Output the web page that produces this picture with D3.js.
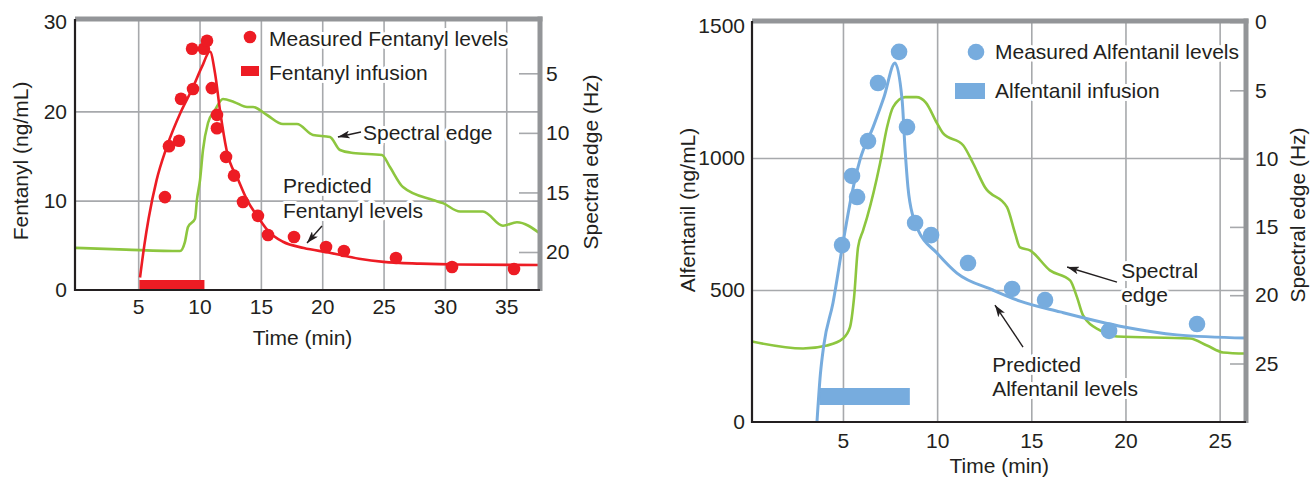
<!DOCTYPE html>
<html><head><meta charset="utf-8">
<script src="https://cdn.jsdelivr.net/npm/d3@7"></script>
<style>
body{margin:0;background:#fff}
svg text{font-family:"Liberation Sans",Arial,Helvetica,sans-serif;fill:#231f20}
</style>
</head><body>
<svg id="c" width="1314" height="477"></svg>
<script>
// ---------------- DATA ----------------
// Left panel: Fentanyl
const fentTicksX = [5, 10, 15, 20, 25, 30, 35];
const fentTicksY = [0, 10, 20, 30];
const fentGridY = [10, 20];
const fentSpecTicks = [5, 10, 15, 20];
const fentInfusion = [5.1, 10.4]; // minutes
const fentMeasured = [
  [7.18,10.4],[7.51,16.1],[8.33,16.7],[8.49,21.4],[9.47,22.5],[9.39,27.0],[10.36,27.0],[10.61,27.9],
  [11.0,22.6],[11.42,19.6],[11.42,18.1],[12.16,14.9],[12.81,12.8],[13.54,9.85],[14.76,8.3],[15.58,6.16],
  [17.7,5.93],[20.31,4.81],[21.77,4.37],[26.01,3.58],[30.58,2.57],[35.63,2.35]
];
const fentPredicted = [
  [5.15,1.4],[5.5,5.0],[5.85,8.0],[6.5,12.3],[7.3,15.9],[8.5,20.0],[9.4,22.5],[10.2,25.0],[10.85,26.7],
  [11.26,24.3],[11.67,20.1],[12.2,15.7],[13.16,12.3],[13.9,10.0],[14.8,8.1],[15.6,6.6],[16.8,5.4],
  [18.5,4.7],[20.5,4.2],[23,3.5],[25,3.15],[28,2.95],[31,2.85],[37.75,2.8]
];
const fentSpectral = [
  [-0.15,19.65],[4,19.8],[8.41,19.92],[8.8,19.2],[9.06,17.9],[9.63,17.2],[9.79,15.6],[10.04,13.96],
  [10.28,11.44],[10.69,9.17],[11.26,8.08],[11.91,7.16],[12.8,7.4],[13.87,7.83],[14.36,7.83],[15.5,8.5],
  [16.8,9.26],[17.94,9.26],[19.25,10.18],[20.63,10.35],[21.45,11.44],[22.51,11.69],[24.87,11.86],
  [25.52,12.87],[26.58,14.55],[29.03,15.64],[29.84,15.9],[31.23,16.6],[33.1,16.6],[34.73,17.8],
  [35.87,17.5],[37.75,18.45]
];

// Right panel: Alfentanil
const alfTicksX = [5, 10, 15, 20, 25];
const alfTicksY = [0, 500, 1000, 1500];
const alfGridY = [500, 1000];
const alfSpecTicks = [0, 5, 10, 15, 20, 25];
const alfInfusion = [3.75, 8.55];
const alfMeasured = [
  [4.95,670],[5.48,932],[5.75,852],[6.33,1064],[6.86,1284],[7.98,1402],[8.4,1117],[8.83,754],
  [9.68,708],[11.64,602],[13.98,504],[15.73,462],[19.13,345],[23.8,371]
];
const alfPredicted = [
  [3.62,0],[3.8,180],[3.98,290],[4.47,451],[5.0,678],[5.48,867],[5.9,992],[6.6,1117],[7.18,1231],[7.76,1360],
  [8.14,1220],[8.3,1030],[8.45,890],[8.72,777],[8.99,727],[9.99,640],[11.05,564],[12.96,500],
  [14.4,458],[16.53,417],[19.93,360],[22.74,330],[26.4,318]
];
const alfSpectral = [
  [0.17,23.39],[2.88,23.9],[4.15,23.68],[5.0,23.17],[5.37,22.36],[5.59,20.16],[5.8,16.5],[6.07,15.25],
  [6.28,14.3],[6.97,10.34],[7.34,7.7],[7.66,6.23],[8.3,5.5],[8.9,5.5],[9.4,5.9],[9.99,7.4],[10.31,8.14],
  [11.38,9.02],[11.91,10.34],[12.54,12.1],[13.71,13.56],[14.14,15.47],[14.4,16.5],[14.93,16.72],
  [15.99,18.18],[17.06,18.91],[17.43,20.16],[17.75,21.48],[18.65,22.58],[19.55,23.02],[23.43,23.17],
  [24.33,23.68],[25.18,24.19],[26.4,24.27]
];

// ---------------- STYLE ----------------
const FONT = 21;
const C = {red:"#ed1c24", green:"#8dc63f", blue:"#77acde", grid:"#a7a9ac", frame:"#939598", ink:"#231f20"};
const svg = d3.select("#c");

const defs = svg.append("defs");
defs.append("marker").attr("id","arr").attr("viewBox","0 0 12 8").attr("refX",12).attr("refY",4)
  .attr("markerWidth",12).attr("markerHeight",8).attr("markerUnits","userSpaceOnUse").attr("orient","auto")
  .append("path").attr("d","M0,0 L12,4 L0,8 L3,4 Z").attr("fill",C.ink);

function styleAxisText(a){
  a.attr("font-size",FONT).attr("font-family",null);
  a.selectAll("text").attr("fill",C.ink);
}

function drawPanel(p){
  const g = svg.append("g");
  const {x,y,s,L,T,R,B} = p;

  // vertical grid
  g.append("g").attr("transform",`translate(0,${B})`)
    .call(d3.axisBottom(x).tickValues(p.xTicks).tickSize(-(B-T)).tickFormat(""))
    .call(a=>{a.select(".domain").remove();a.selectAll("line").attr("stroke",C.grid).attr("stroke-width",1.6);});
  // horizontal grid
  g.append("g").attr("transform",`translate(${L},0)`)
    .call(d3.axisLeft(y).tickValues(p.yGrid).tickSize(-(R-L)).tickFormat(""))
    .call(a=>{a.select(".domain").remove();a.selectAll("line").attr("stroke",C.grid).attr("stroke-width",1.6);});

  // infusion bar
  g.append("rect").attr("x",x(p.infusion[0])).attr("width",x(p.infusion[1])-x(p.infusion[0]))
    .attr("y",B-p.barOff-p.barH).attr("height",p.barH).attr("fill",p.color);

  // spectral edge line
  g.append("path").datum(p.spectral)
    .attr("d",d3.line().x(d=>x(d[0])).y(d=>s(d[1])).curve(d3.curveMonotoneX))
    .attr("fill","none").attr("stroke",C.green).attr("stroke-width",2.6);
  // predicted line
  g.append("path").datum(p.predicted)
    .attr("d",d3.line().x(d=>x(d[0])).y(d=>y(d[1])).curve(d3.curveMonotoneX))
    .attr("fill","none").attr("stroke",p.color).attr("stroke-width",p.lineW);
  // measured dots
  g.append("g").selectAll("circle").data(p.measured).join("circle")
    .attr("cx",d=>x(d[0])).attr("cy",d=>y(d[1])).attr("r",p.dotR).attr("fill",p.color);

  // right axis (spectral edge) with inward ticks
  g.append("g").attr("transform",`translate(${R},0)`)
    .call(d3.axisRight(s).tickValues(p.sTicks).tickSize(-p.rTick).tickPadding(p.rPad).tickFormat(d3.format("d")))
    .call(a=>{a.select(".domain").remove();a.selectAll("line").attr("stroke",C.grid).attr("stroke-width",1.6);styleAxisText(a);});

  // frame: top & right gray, left & bottom black
  g.append("line").attr("x1",L).attr("x2",R+2.5).attr("y1",T).attr("y2",T).attr("stroke",C.frame).attr("stroke-width",5);
  g.append("line").attr("x1",R).attr("x2",R).attr("y1",T-2.5).attr("y2",B+1).attr("stroke",C.frame).attr("stroke-width",5);

  // bottom axis
  g.append("g").attr("transform",`translate(0,${B})`)
    .call(d3.axisBottom(x).tickValues(p.xTicks).tickSize(0).tickFormat(d3.format("d")))
    .call(a=>{a.select(".domain").remove();styleAxisText(a);a.selectAll("text").attr("y",p.xLabelDy).attr("dy",null);});
  // left axis
  g.append("g").attr("transform",`translate(${L},0)`)
    .call(d3.axisLeft(y).tickValues(p.yTicks).tickSize(0).tickPadding(p.lPad).tickFormat(d3.format("d")))
    .call(a=>{a.select(".domain").remove();styleAxisText(a);});
  g.append("line").attr("x1",L).attr("x2",L).attr("y1",T).attr("y2",B+1).attr("stroke",C.ink).attr("stroke-width",2.2);
  g.append("line").attr("x1",L-1).attr("x2",R).attr("y1",B).attr("y2",B).attr("stroke",C.ink).attr("stroke-width",2.2);

  // axis titles
  g.append("text").attr("x",(x(p.xTitleAt))).attr("y",p.xTitleY).attr("text-anchor","middle")
    .attr("font-size",FONT).text("Time (min)");
  g.append("text").attr("transform",`translate(${p.yTitle[0]},${p.yTitle[1]}) rotate(-90)`)
    .attr("text-anchor","middle").attr("font-size",FONT).text(p.yTitleText);
  g.append("text").attr("transform",`translate(${p.sTitle[0]},${p.sTitle[1]}) rotate(-90)`)
    .attr("text-anchor","middle").attr("font-size",FONT).text("Spectral edge (Hz)");

  // legend
  const lg = p.legend;
  g.append("circle").attr("cx",lg.cx).attr("cy",lg.cy).attr("r",p.dotR).attr("fill",p.color);
  g.append("rect").attr("x",lg.rx).attr("y",lg.ry).attr("width",lg.rw).attr("height",lg.rh).attr("fill",p.color);
  const halo = sel => sel.attr("stroke","#fff").attr("stroke-width",6).attr("paint-order","stroke").attr("stroke-linejoin","round");
  g.append("text").attr("x",lg.tx).attr("y",lg.t1).attr("font-size",FONT).text(p.legendText[0]).call(halo);
  g.append("text").attr("x",lg.tx).attr("y",lg.t2).attr("font-size",FONT).text(p.legendText[1]).call(halo);

  // annotations (data coordinates)
  p.notes.forEach(n=>{
    n.lines.forEach((t,i)=>{
      g.append("text").attr("x",x(n.at[0])).attr("y",y(n.at[1])+i*n.lh).attr("font-size",FONT).text(t).call(halo);
    });
    g.append("line").attr("x1",x(n.from[0])).attr("y1",y(n.from[1])).attr("x2",x(n.to[0])).attr("y2",y(n.to[1]))
      .attr("stroke",C.ink).attr("stroke-width",1.4).attr("marker-end","url(#arr)");
  });
}

// ---------------- LEFT PANEL ----------------
const xL = d3.scaleLinear().domain([-0.15, 37.75]).range([75, 540]);
const yL = d3.scaleLinear().domain([0, 30]).range([290, 22]);
const sL = d3.scaleLinear().domain([5, 20]).range([73.3, 252]);
drawPanel({
  x:xL, y:yL, s:sL, L:75, T:19, R:540, B:290,
  xTicks:fentTicksX, yTicks:fentTicksY, yGrid:fentGridY, sTicks:fentSpecTicks,
  infusion:fentInfusion, barOff:0, barH:10, color:C.red, lineW:2.6, dotR:6.3,
  measured:fentMeasured, predicted:fentPredicted, spectral:fentSpectral,
  rTick:21, rPad:6, lPad:8, xLabelDy:24,
  xTitleAt:18.4, xTitleY:345, yTitle:[28,161], yTitleText:"Fentanyl (ng/mL)", sTitle:[598,162],
  legend:{cx:250,cy:37,rx:241,ry:66,rw:18,rh:10,tx:269,t1:46,t2:80},
  legendText:["Measured Fentanyl levels","Fentanyl infusion"],
  notes:[
    {lines:["Spectral edge"],at:[23.32,16.79],lh:0,from:[23.16,17.69],to:[21.28,17.13]},
    {lines:["Predicted","Fentanyl levels"],at:[16.8,10.86],lh:25,from:[19.98,7.16],to:[18.76,5.26]}
  ]
});

// ---------------- RIGHT PANEL ----------------
const xR = d3.scaleLinear().domain([0.17, 26.4]).range([752, 1246]);
const yR = d3.scaleLinear().domain([0, 1500]).range([422, 26]);
const sR = d3.scaleLinear().domain([0, 25]).range([22, 363.5]);
drawPanel({
  x:xR, y:yR, s:sR, L:752, T:21, R:1246, B:422,
  xTicks:alfTicksX, yTicks:alfTicksY, yGrid:alfGridY, sTicks:alfSpecTicks,
  infusion:alfInfusion, barOff:17, barH:17, color:C.blue, lineW:3, dotR:8.3,
  measured:alfMeasured, predicted:alfPredicted, spectral:alfSpectral,
  rTick:16, rPad:9, lPad:7, xLabelDy:26,
  xTitleAt:13.3, xTitleY:473, yTitle:[695,210], yTitleText:"Alfentanil (ng/mL)", sTitle:[1305,215],
  legend:{cx:976,cy:52,rx:955,ry:83,rw:30,rh:16,tx:995,t1:59,t2:98},
  legendText:["Measured Alfentanil levels","Alfentanil infusion"],
  notes:[
    {lines:["Spectral","edge"],at:[19.77,545],lh:24,from:[19.55,530],to:[16.9,587]},
    {lines:["Predicted","Alfentanil levels"],at:[12.92,189],lh:24,from:[14.56,284],to:[13.07,443]}
  ]
});
</script>
</body></html>
